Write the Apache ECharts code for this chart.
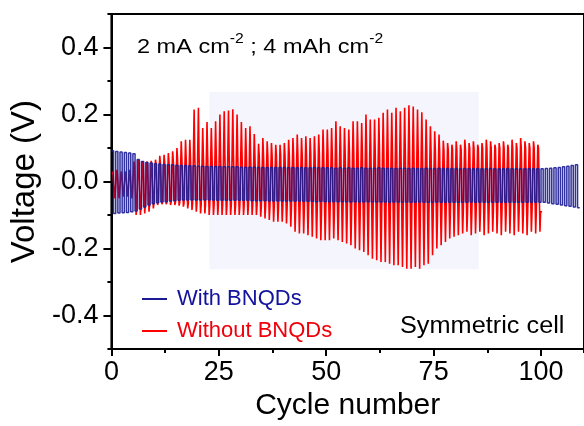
<!DOCTYPE html>
<html>
<head>
<meta charset="utf-8">
<script src="https://cdn.jsdelivr.net/npm/echarts@6/dist/echarts.min.js"></script>
<style>
html, body { margin: 0; padding: 0; background: #fff; }
#main { width: 584px; height: 426px; }
</style>
</head>
<body>
<div id="main"></div>
<script>
// With BNQDs: top / bottom of each cycle (cycles 0..108)
var blueTop = [
	0.092, 0.09, 0.088, 0.087, 0.085, 0.083, 0.066, 0.06, 0.057, 0.055,
	0.053, 0.052, 0.051, 0.05, 0.05, 0.049, 0.048, 0.048, 0.047, 0.047,
	0.046, 0.046, 0.045, 0.045, 0.045, 0.045, 0.044, 0.044, 0.044, 0.044,
	0.043, 0.043, 0.043, 0.043, 0.042, 0.042, 0.042, 0.042, 0.042, 0.042,
	0.042, 0.041, 0.042, 0.041, 0.042, 0.041, 0.041, 0.042, 0.041, 0.041,
	0.041, 0.041, 0.04, 0.041, 0.04, 0.041, 0.04, 0.04, 0.041, 0.04,
	0.04, 0.04, 0.041, 0.04, 0.04, 0.04, 0.039, 0.04, 0.04, 0.039,
	0.04, 0.039, 0.039, 0.04, 0.039, 0.039, 0.04, 0.039, 0.039, 0.039,
	0.039, 0.038, 0.039, 0.039, 0.038, 0.039, 0.038, 0.038, 0.039, 0.038,
	0.038, 0.038, 0.039, 0.038, 0.038, 0.038, 0.038, 0.039, 0.038, 0.038,
	0.038, 0.039, 0.04, 0.041, 0.042, 0.044, 0.046, 0.048, 0.05
];
var blueBot = [
	-0.095, -0.094, -0.093, -0.092, -0.09, -0.088, -0.082, -0.076, -0.07, -0.066,
	-0.063, -0.061, -0.06, -0.058, -0.057, -0.056, -0.055, -0.055, -0.055, -0.055,
	-0.055, -0.055, -0.055, -0.055, -0.056, -0.056, -0.056, -0.056, -0.056, -0.056,
	-0.056, -0.056, -0.057, -0.057, -0.057, -0.057, -0.058, -0.058, -0.058, -0.058,
	-0.058, -0.058, -0.059, -0.058, -0.059, -0.059, -0.059, -0.06, -0.059, -0.06,
	-0.06, -0.06, -0.06, -0.06, -0.06, -0.061, -0.06, -0.061, -0.061, -0.06,
	-0.061, -0.061, -0.061, -0.061, -0.062, -0.061, -0.061, -0.062, -0.061, -0.062,
	-0.062, -0.061, -0.062, -0.062, -0.062, -0.061, -0.062, -0.062, -0.062, -0.062,
	-0.062, -0.062, -0.062, -0.061, -0.062, -0.062, -0.062, -0.062, -0.062, -0.062,
	-0.062, -0.062, -0.062, -0.062, -0.062, -0.062, -0.062, -0.062, -0.062, -0.062,
	-0.062, -0.064, -0.066, -0.068, -0.07, -0.072, -0.074, -0.076, -0.078
];

// Without BNQDs: spike peak, upper plateau, trough, lower plateau (cycles 0..99)
var redPeak = [
	0.03, 0.035, 0.03, 0.03, 0.035, 0.06, 0.065, 0.06, 0.06, 0.062,
	0.065, 0.077, 0.08, 0.085, 0.09, 0.1, 0.12, 0.125, 0.125, 0.215,
	0.22, 0.16, 0.178, 0.16, 0.18, 0.2, 0.21, 0.212, 0.216, 0.2,
	0.178, 0.16, 0.165, 0.142, 0.113, 0.13, 0.12, 0.115, 0.11, 0.11,
	0.115, 0.125, 0.13, 0.14, 0.13, 0.135, 0.13, 0.135, 0.14, 0.155,
	0.155, 0.16, 0.18, 0.165, 0.16, 0.155, 0.18, 0.18, 0.175, 0.2,
	0.185, 0.185, 0.19, 0.205, 0.215, 0.205, 0.22, 0.21, 0.22, 0.228,
	0.224, 0.215, 0.207, 0.185, 0.165, 0.15, 0.14, 0.122, 0.115, 0.11,
	0.12, 0.11, 0.125, 0.115, 0.12, 0.11, 0.115, 0.125, 0.12, 0.11,
	0.115, 0.12, 0.11, 0.125, 0.115, 0.13, 0.12, 0.115, 0.12, 0.11
];
var redUp = [
	0.02, 0.02, 0.02, 0.02, 0.02, 0.045, 0.05, 0.05, 0.05, 0.05,
	0.055, 0.055, 0.058, 0.06, 0.062, 0.065, 0.068, 0.07, 0.07, 0.075,
	0.075, 0.078, 0.078, 0.08, 0.08, 0.08, 0.082, 0.082, 0.082, 0.08,
	0.08, 0.08, 0.08, 0.078, 0.078, 0.078, 0.078, 0.078, 0.078, 0.078,
	0.08, 0.08, 0.08, 0.08, 0.08, 0.08, 0.082, 0.082, 0.082, 0.085,
	0.085, 0.085, 0.088, 0.088, 0.088, 0.088, 0.09, 0.09, 0.09, 0.09,
	0.09, 0.09, 0.09, 0.092, 0.092, 0.092, 0.092, 0.092, 0.092, 0.092,
	0.092, 0.092, 0.09, 0.09, 0.09, 0.09, 0.09, 0.092, 0.095, 0.095,
	0.095, 0.095, 0.098, 0.098, 0.098, 0.1, 0.1, 0.1, 0.1, 0.1,
	0.1, 0.1, 0.1, 0.1, 0.1, 0.1, 0.1, 0.1, 0.1, 0.1
];
var redTrough = [
	-0.05, -0.05, -0.045, -0.045, -0.05, -0.1, -0.1, -0.095, -0.09, -0.08,
	-0.07, -0.068, -0.068, -0.07, -0.07, -0.072, -0.075, -0.08, -0.085, -0.09,
	-0.095, -0.095, -0.1, -0.1, -0.1, -0.1, -0.1, -0.1, -0.1, -0.1,
	-0.1, -0.1, -0.1, -0.1, -0.105, -0.11, -0.115, -0.12, -0.12, -0.12,
	-0.125, -0.135, -0.15, -0.155, -0.155, -0.16, -0.165, -0.17, -0.175, -0.175,
	-0.175, -0.17, -0.175, -0.18, -0.185, -0.19, -0.2, -0.205, -0.21, -0.22,
	-0.23, -0.235, -0.24, -0.24, -0.245, -0.25, -0.25, -0.255, -0.26, -0.26,
	-0.255, -0.26, -0.25, -0.245, -0.22, -0.2, -0.19, -0.18, -0.17, -0.165,
	-0.16, -0.155, -0.15, -0.16, -0.155, -0.15, -0.16, -0.155, -0.15, -0.155,
	-0.16, -0.15, -0.155, -0.16, -0.15, -0.155, -0.16, -0.15, -0.155, -0.15
];
var redDown = [
	-0.03, -0.03, -0.03, -0.03, -0.03, -0.075, -0.075, -0.07, -0.068, -0.065,
	-0.062, -0.062, -0.062, -0.062, -0.063, -0.063, -0.064, -0.065, -0.066, -0.067,
	-0.068, -0.068, -0.069, -0.07, -0.07, -0.07, -0.07, -0.07, -0.07, -0.07,
	-0.07, -0.07, -0.07, -0.07, -0.072, -0.072, -0.073, -0.074, -0.075, -0.075,
	-0.076, -0.078, -0.08, -0.082, -0.082, -0.084, -0.085, -0.086, -0.088, -0.088,
	-0.088, -0.088, -0.09, -0.09, -0.092, -0.094, -0.096, -0.098, -0.1, -0.1,
	-0.1, -0.1, -0.1, -0.1, -0.1, -0.1, -0.1, -0.1, -0.1, -0.1,
	-0.1, -0.1, -0.1, -0.1, -0.1, -0.098, -0.096, -0.094, -0.092, -0.09,
	-0.09, -0.09, -0.09, -0.09, -0.09, -0.09, -0.09, -0.09, -0.09, -0.09,
	-0.09, -0.09, -0.09, -0.09, -0.09, -0.09, -0.09, -0.09, -0.09, -0.09
];

var seriesNames = ['With BNQDs', 'Without BNQDs'];
var xTicks = [0, 25, 50, 75, 100];
var yTicks = [-0.4, -0.2, 0, 0.2, 0.4];
// faint shaded patch behind the curves
var shadeX = [22.8, 85.5];
var shadeY = [-0.262, 0.268];
var redShift = 0.25; // red cycles start a quarter cycle later than blue

// square wave: charge half then discharge half of each cycle
function blueWave() {
	var pts = [];
	for (var i = 0; i < blueTop.length; i++) {
		pts.push([i, blueTop[i]]);
		pts.push([i + 0.5, blueTop[i]]);
		pts.push([i + 0.5, blueBot[i]]);
		pts.push([i + 1, blueBot[i]]);
	}
	return pts;
}

// spike at the start of each half, then plateau
function redWave() {
	var pts = [];
	for (var i = 0; i < redPeak.length; i++) {
		var s = i + redShift;
		pts.push([s, redPeak[i]]);
		pts.push([s + 0.15, redUp[i]]);
		pts.push([s + 0.5, redUp[i]]);
		pts.push([s + 0.5, redTrough[i]]);
		pts.push([s + 0.65, redDown[i]]);
		pts.push([s + 1, redDown[i]]);
	}
	return pts;
}

var font = 'Liberation Sans';
var chart = echarts.init(document.getElementById('main'));
var option = {
	backgroundColor: '#fff',
	animation: false,
	grid: {
		left: 111,
		top: 14,
		right: -6,
		bottom: 72,
		show: true,
		borderColor: '#000',
		borderWidth: 2
	},
	legend: {
		orient: 'vertical',
		left: 137,
		top: 283,
		icon: 'rect',
		itemWidth: 25,
		itemHeight: 2,
		itemGap: 10,
		textStyle: { fontFamily: font, fontSize: 22, padding: [0, 0, 0, 5] },
		data: [
			{ name: seriesNames[0], textStyle: { color: '#12129e' } },
			{ name: seriesNames[1], textStyle: { color: '#f0000a' } }
		]
	},
	xAxis: [{
		type: 'value',
		min: 0,
		max: 110,
		interval: 25,
		name: 'Cycle number',
		nameLocation: 'middle',
		nameGap: 40,
		nameTextStyle: { fontFamily: font, fontSize: 30, color: '#000' },
		axisLine: { onZero: false, lineStyle: { color: '#000', width: 2 } },
		axisTick: { inside: false, length: 7, lineStyle: { width: 2, color: '#000' } },
		axisLabel: {
			margin: 10,
			showMaxLabel: false,
			fontFamily: font,
			fontSize: 27,
			color: '#000',
			formatter: function(v) {
				return xTicks.indexOf(v) >= 0 ? String(v) : '';
			}
		},
		splitLine: { show: false }
	}, {
		// minor ticks
		type: 'value',
		position: 'bottom',
		min: 0,
		max: 110,
		interval: 12.5,
		axisLine: { show: false, onZero: false },
		axisTick: { length: 4, lineStyle: { width: 2, color: '#000' } },
		axisLabel: { show: false },
		splitLine: { show: false }
	}],
	yAxis: [{
		type: 'value',
		min: -0.5,
		max: 0.5,
		splitNumber: 5,
		name: 'Voltage (V)',
		nameLocation: 'middle',
		nameGap: 69,
		nameTextStyle: { fontFamily: font, fontSize: 33, color: '#000' },
		axisLine: { show: true, onZero: false, lineStyle: { color: '#000', width: 2 } },
		axisTick: { show: true, length: 8, lineStyle: { width: 2, color: '#000' } },
		axisLabel: {
			margin: 13,
			showMinLabel: false,
			showMaxLabel: false,
			fontFamily: font,
			fontSize: 27,
			color: '#000',
			formatter: function(v) {
				for (var k = 0; k < yTicks.length; k++) {
					if (Math.abs(yTicks[k] - v) < 1e-6) return yTicks[k].toFixed(1);
				}
				return '';
			}
		},
		splitLine: { show: false }
	}, {
		// minor ticks
		type: 'value',
		position: 'left',
		min: -0.5,
		max: 0.5,
		interval: 0.1,
		axisLine: { show: false, onZero: false },
		axisTick: { show: true, length: 4, lineStyle: { width: 2, color: '#000' } },
		axisLabel: { show: false },
		splitLine: { show: false }
	}],
	graphic: [{
		type: 'text',
		x: 137,
		y: 32,
		scaleX: 1.12,
		style: {
			text: '{m|2 mA cm}{s|-2}{m| ; 4 mAh cm}{s|-2}',
			fill: '#000',
			rich: {
				m: { fontFamily: font, fontSize: 21, lineHeight: 30, fill: '#000' },
				s: { fontFamily: font, fontSize: 14, lineHeight: 10, verticalAlign: 'top', fill: '#000' }
			}
		}
	}, {
		type: 'text',
		x: 400,
		y: 315,
		scaleX: 1.1,
		style: {
			text: 'Symmetric cell',
			fontFamily: font,
			fontSize: 23,
			fill: '#000'
		}
	}],
	series: [{
		type: 'line',
		name: 'shade',
		data: [],
		z: 1,
		silent: true,
		markArea: {
			silent: true,
			itemStyle: { color: 'rgba(236,238,251,0.55)' },
			data: [[{ xAxis: shadeX[0], yAxis: shadeY[1] }, { xAxis: shadeX[1], yAxis: shadeY[0] }]]
		}
	}, {
		type: 'line',
		name: seriesNames[1],
		data: redWave(),
		z: 2,
		showSymbol: false,
		symbol: 'none',
		color: '#ff0000',
		lineStyle: { color: '#ff0000', width: 1.6 }
	}, {
		type: 'line',
		name: seriesNames[0],
		data: blueWave(),
		z: 3,
		showSymbol: false,
		symbol: 'none',
		color: '#1b1b96',
		lineStyle: { color: '#1b1b96', width: 1.5, opacity: 0.9 }
	}]
};
chart.setOption(option);
</script>
</body>
</html>
